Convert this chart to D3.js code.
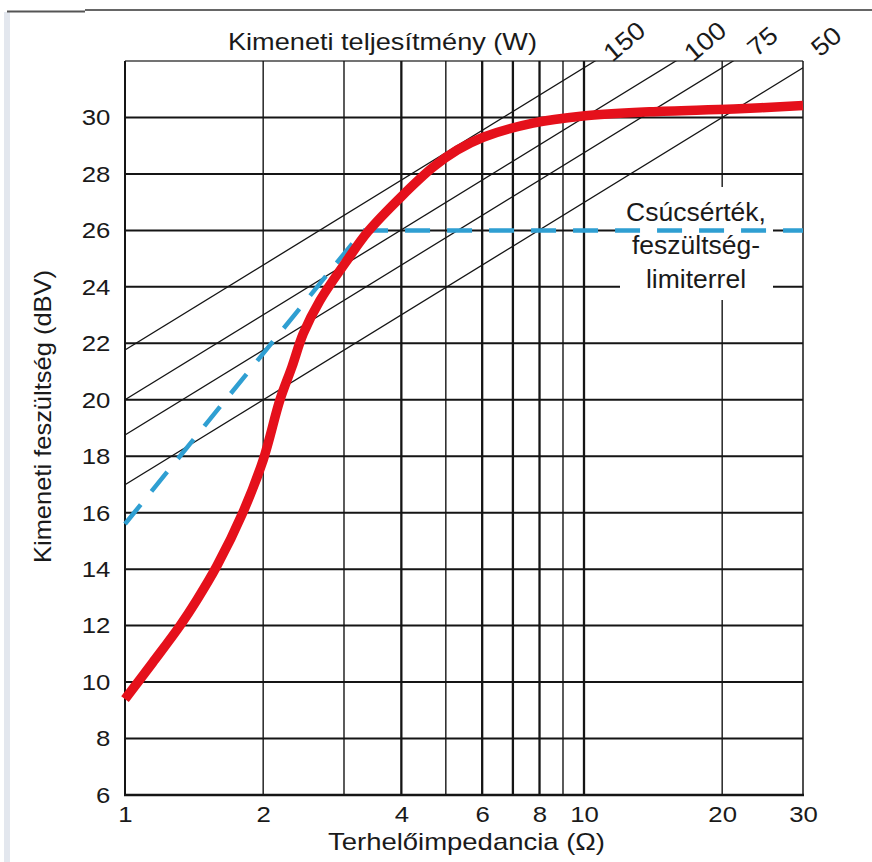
<!DOCTYPE html>
<html>
<head>
<meta charset="utf-8">
<script src="https://cdn.jsdelivr.net/npm/d3@7/dist/d3.min.js"></script>
<style>
  html, body { margin: 0; padding: 0; background: #fff; }
  svg { display: block; }
  text { font-family: "Liberation Sans", Arial, Helvetica, sans-serif; fill: #1a1a1a; }
</style>
</head>
<body>
<svg id="chart" width="872" height="862"></svg>
<script>
// ---------- data ----------
const xTickLabels = [1, 2, 4, 6, 8, 10, 20, 30];
const xGridThin = [2, 3, 5, 9, 20];
const xGridThick = [4, 6, 7, 8, 10];
const yTickLabels = [6, 8, 10, 12, 14, 16, 18, 20, 22, 24, 26, 28, 30];
const powers = [150, 100, 75, 50];            // W, constant-power lines
const outputR = [1, 1.15, 1.318, 1.433, 1.584, 1.81, 2.0, 2.176, 2.31, 2.445, 2.66, 3.02, 3.38, 4.0, 4.69, 5.3, 6.03, 7.74, 9.95, 13.9, 21.2, 30];
const outputV = [9.4, 10.7, 12.0, 12.9, 14.1, 16.04, 17.87, 20.0, 21.16, 22.34, 23.52, 24.85, 25.95, 27.2, 28.24, 28.85, 29.3, 29.8, 30.05, 30.2, 30.3, 30.42];
const limiterR = [1, 3.3, 30];
const limiterV = [15.6, 26, 26];
const annotation = ["Csúcsérték,", "feszültség-", "limiterrel"];

// ---------- setup ----------
const svg = d3.select("#chart");
const pL = 125, pR = 803, pT = 61, pB = 795;
const x = d3.scaleLog().domain([1, 30]).range([pL, pR]);
const y = d3.scaleLinear().domain([6, 32]).range([pB, pT]);
const ink = "#151515";

// page chrome
svg.append("rect").attr("x", 4).attr("y", 12).attr("width", 6).attr("height", 850).attr("fill", "#e3e7ee");
svg.append("line").attr("x1", 7).attr("x2", 85).attr("y1", 11.5).attr("y2", 11.5).attr("stroke", "#555").attr("stroke-width", 2);
svg.append("line").attr("x1", 85).attr("x2", 872).attr("y1", 10).attr("y2", 10).attr("stroke", "#666").attr("stroke-width", 2);

// clip
svg.append("defs").append("clipPath").attr("id", "plotclip")
  .append("rect").attr("x", pL).attr("y", pT).attr("width", pR - pL).attr("height", pB - pT);

const grid = svg.append("g");
// horizontal grid
grid.selectAll(".hg").data(yTickLabels.filter(v => v > 6)).join("line")
  .attr("x1", pL).attr("x2", pR)
  .attr("y1", d => y(d)).attr("y2", d => y(d))
  .attr("stroke", ink).attr("stroke-width", 2);
// top border
grid.append("line").attr("x1", pL).attr("x2", pR).attr("y1", pT).attr("y2", pT)
  .attr("stroke", "#444").attr("stroke-width", 1.4);
// vertical grid
grid.selectAll(".vt").data(xGridThin).join("line")
  .attr("x1", d => x(d)).attr("x2", d => x(d)).attr("y1", pT).attr("y2", pB)
  .attr("stroke", ink).attr("stroke-width", 1.4);
grid.selectAll(".vk").data(xGridThick).join("line")
  .attr("x1", d => x(d)).attr("x2", d => x(d)).attr("y1", pT).attr("y2", pB)
  .attr("stroke", ink).attr("stroke-width", 2.3);
// borders
grid.append("line").attr("x1", x(30)).attr("x2", x(30)).attr("y1", pT).attr("y2", pB)
  .attr("stroke", ink).attr("stroke-width", 1.5);
grid.append("line").attr("x1", pL).attr("x2", pL).attr("y1", pT).attr("y2", pB)
  .attr("stroke", ink).attr("stroke-width", 2);
grid.append("line").attr("x1", pL - 1).attr("x2", pR + 1).attr("y1", pB).attr("y2", pB)
  .attr("stroke", ink).attr("stroke-width", 2.5);

// constant power lines: dBV = 10*log10(P*R)
const lineGen = d3.line().x(d => x(d[0])).y(d => y(d[1]));
const plines = svg.append("g").attr("clip-path", "url(#plotclip)");
powers.forEach(P => {
  const pts = x.domain().map(R => [R, 10 * Math.log10(P * R)]);
  plines.append("path").attr("d", lineGen(pts)).attr("fill", "none")
    .attr("stroke", ink).attr("stroke-width", 1.3);
});
// power labels
const labelV = 32.7;
powers.forEach(P => {
  const R = Math.pow(10, labelV / 10) / P;
  const px = Math.min(x(R) - 3, 826);
  svg.append("text").text(P)
    .attr("transform", `translate(${px},${y(labelV)}) rotate(-40) scale(1.1,1)`)
    .attr("text-anchor", "middle").attr("dy", "0.35em")
    .attr("font-size", 25);
});

// annotation box
svg.append("rect").attr("x", 620).attr("y", 187).attr("width", 153).attr("height", 113).attr("fill", "#fff");
annotation.forEach((t, i) => {
  svg.append("text").text(t)
    .attr("x", 696).attr("y", 221 + i * 33.5)
    .attr("text-anchor", "middle").attr("font-size", 25)
    .attr("transform", `translate(${696 * -0.06},0) scale(1.06,1)`);
});

// limiter dashed line
const limPts = limiterR.map((r, i) => [r, limiterV[i]]);
svg.append("path").attr("d", lineGen(limPts)).attr("fill", "none")
  .attr("stroke", "#2f9fd2").attr("stroke-width", 4.5)
  .attr("stroke-dasharray", "25,17");

// output curve
const outPts = outputR.map((r, i) => [r, outputV[i]]);
svg.append("path")
  .attr("d", d3.line().x(d => x(d[0])).y(d => y(d[1])).curve(d3.curveCatmullRom.alpha(0.5))(outPts))
  .attr("fill", "none").attr("stroke", "#e5101b").attr("stroke-width", 9.5)
  .attr("stroke-linecap", "butt").attr("stroke-linejoin", "round");

// axes
const xAxis = svg.append("g").attr("transform", `translate(0,${pB})`)
  .call(d3.axisBottom(x).tickValues(xTickLabels).tickFormat(d3.format("d")).tickSize(0).tickPadding(11));
xAxis.select(".domain").remove();
xAxis.selectAll("text").attr("font-size", 23).attr("fill", "#1a1a1a")
  .attr("font-family", '"Liberation Sans", Arial, sans-serif')
  .attr("transform", "scale(1.12,1)");

const yAxis = svg.append("g").attr("transform", `translate(${pL},0)`)
  .call(d3.axisLeft(y).tickValues(yTickLabels).tickSize(0).tickPadding(13));
yAxis.select(".domain").remove();
yAxis.selectAll("text").attr("font-size", 23).attr("fill", "#1a1a1a")
  .attr("font-family", '"Liberation Sans", Arial, sans-serif')
  .attr("transform", "scale(1.12,1)");

// titles
svg.append("text").text("Kimeneti teljesítmény (W)")
  .attr("x", 228).attr("y", 50).attr("font-size", 24)
  .attr("textLength", 309).attr("lengthAdjust", "spacingAndGlyphs");
svg.append("text").text("Terhelőimpedancia (Ω)")
  .attr("x", 328).attr("y", 850).attr("font-size", 24)
  .attr("textLength", 277).attr("lengthAdjust", "spacingAndGlyphs");
svg.append("text").text("Kimeneti feszültség (dBV)")
  .attr("transform", "translate(51,563) rotate(-90)")
  .attr("font-size", 24)
  .attr("textLength", 293).attr("lengthAdjust", "spacingAndGlyphs");
</script>
</body>
</html>
